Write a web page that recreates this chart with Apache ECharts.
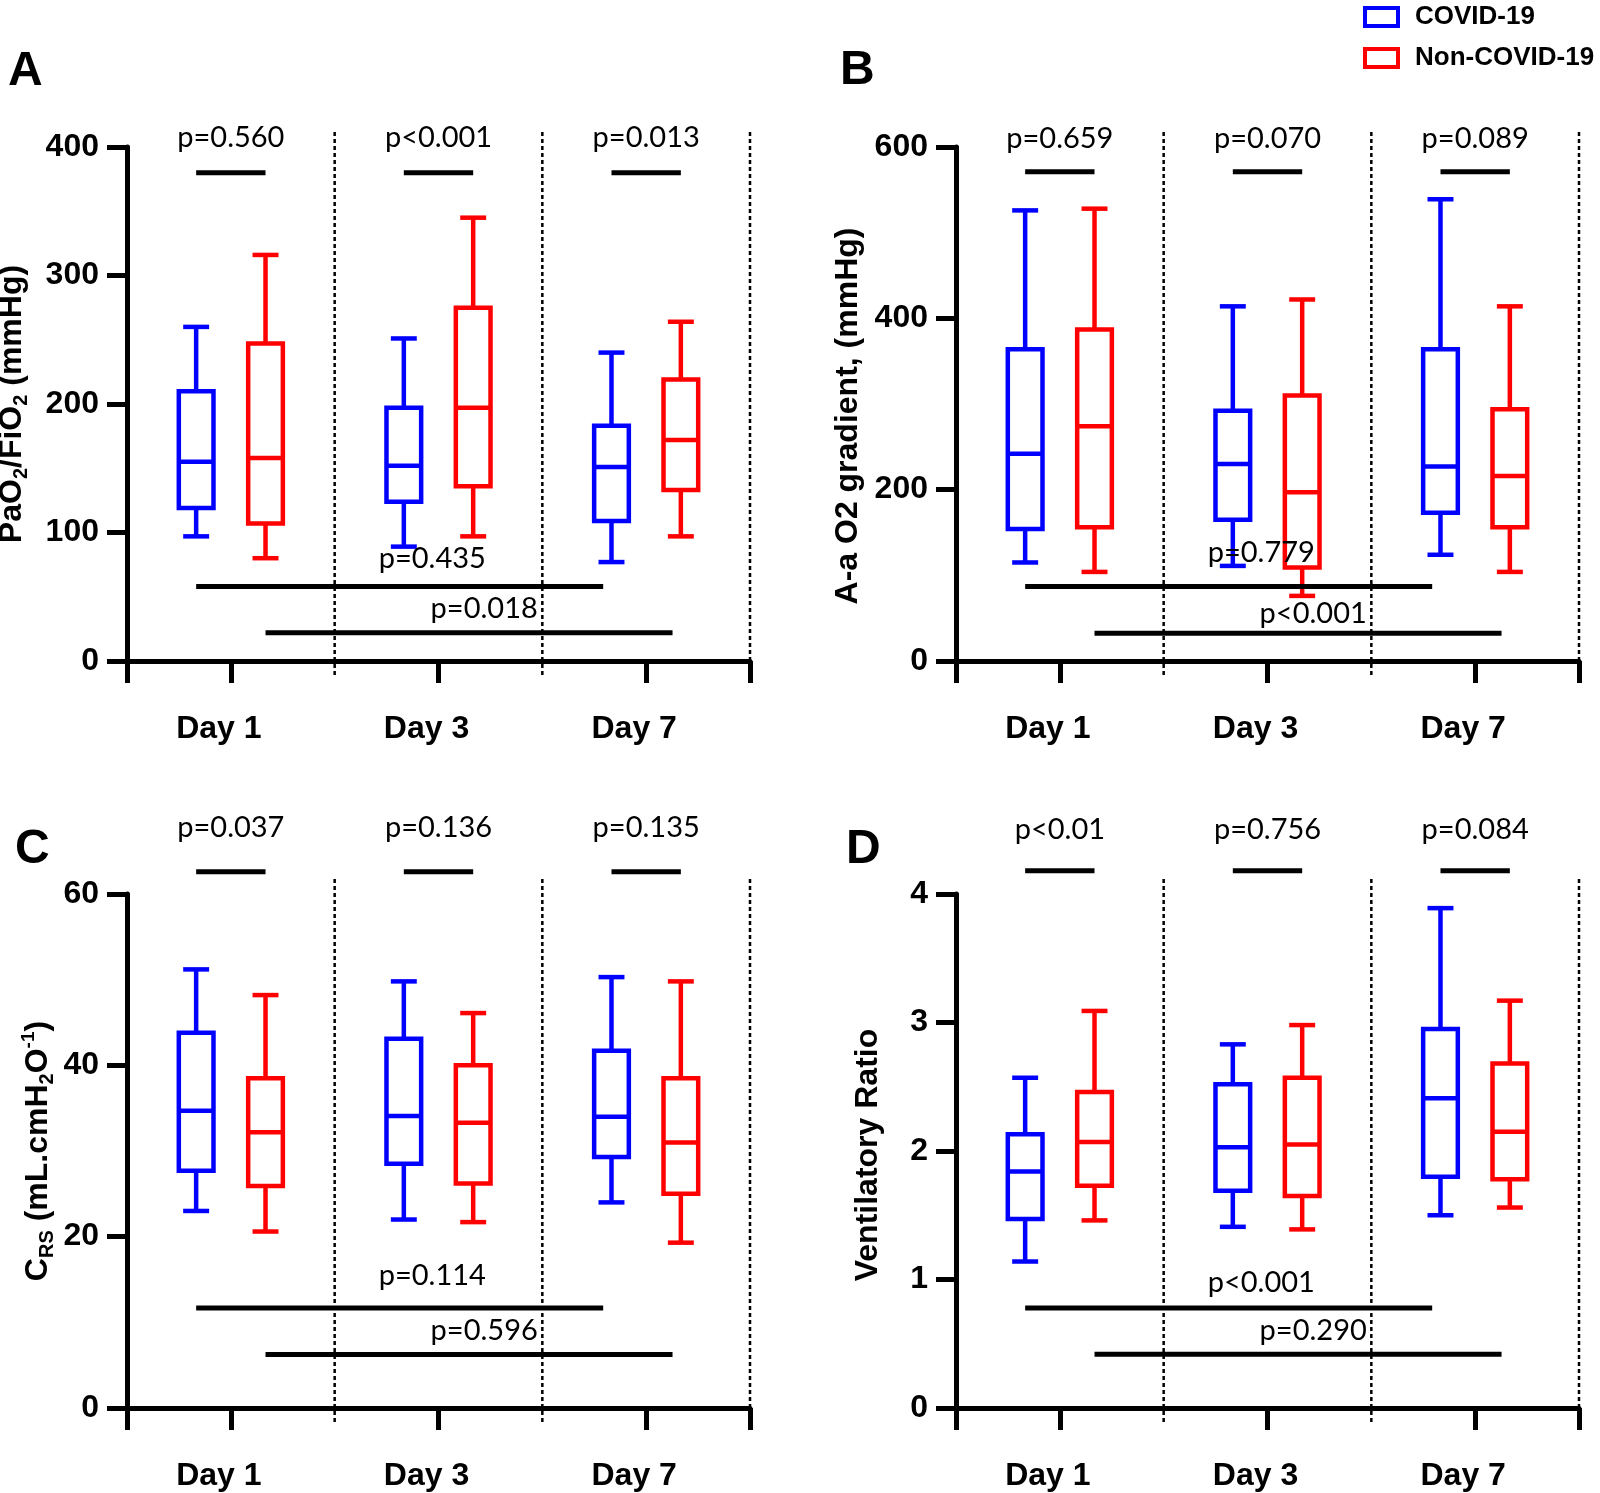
<!DOCTYPE html>
<html><head><meta charset="utf-8">
<script src="https://cdn.jsdelivr.net/npm/echarts@6/dist/echarts.min.js"></script>
<style>html,body{margin:0;padding:0;background:#fff}#c{width:1600px;height:1493px}</style>
</head><body><div id="c"></div>
<script>
const days = ['Day 1', 'Day 3', 'Day 7'];
const groups = ['COVID-19', 'Non-COVID-19'];

// box values per day: [lower whisker, Q1, median, Q3, upper whisker]
const A_covid = [[97, 119, 155, 210, 260], [89, 124, 152, 197, 251], [77, 109, 151, 183, 240]];
const A_non   = [[80, 107, 158, 247, 316], [97, 136, 197, 275, 345], [97, 133, 172, 219, 264]];
const B_covid = [[115, 154, 242, 364, 526], [111, 165, 230, 292, 414], [124, 173, 227, 364, 539]];
const B_non   = [[104, 156, 274, 387, 528], [76, 109, 197, 310, 422], [104, 156, 216, 294, 414]];
const C_covid = [[23.0, 27.7, 34.7, 43.8, 51.2], [22.0, 28.5, 34.1, 43.1, 49.8], [24.0, 29.3, 34.0, 41.7, 50.3]];
const C_non   = [[20.6, 25.9, 32.2, 38.5, 48.2], [21.7, 26.2, 33.3, 40.0, 46.1], [19.3, 25.0, 31.0, 38.5, 49.8]];
const D_covid = [[1.14, 1.47, 1.84, 2.13, 2.57], [1.41, 1.69, 2.03, 2.52, 2.83], [1.50, 1.80, 2.41, 2.95, 3.89]];
const D_non   = [[1.46, 1.73, 2.07, 2.46, 3.09], [1.39, 1.65, 2.05, 2.57, 2.98], [1.56, 1.78, 2.15, 2.68, 3.17]];

// y-axis tick labels
const A_ticks = [0, 100, 200, 300, 400];
const B_ticks = [0, 200, 400, 600];
const C_ticks = [0, 20, 40, 60];
const D_ticks = [0, 1, 2, 3, 4];

// p-values: COVID vs non-COVID per day; Day 1 vs Day 7 within each group
const A_pDay = ['p=0.560', 'p<0.001', 'p=0.013'];
const A_pTime = ['p=0.435', 'p=0.018'];
const B_pDay = ['p=0.659', 'p=0.070', 'p=0.089'];
const B_pTime = ['p=0.779', 'p<0.001'];
const C_pDay = ['p=0.037', 'p=0.136', 'p=0.135'];
const C_pTime = ['p=0.114', 'p=0.596'];
const D_pDay = ['p<0.01', 'p=0.756', 'p=0.084'];
const D_pTime = ['p<0.001', 'p=0.290'];

// annotation levels in data units: [bar, label]
const A_pDayLevel = [380, 407];
const B_pDayLevel = [571, 610];
const C_pDayLevel = [62.6, 67.7];
const D_pDayLevel = [4.18, 4.5];
// Day1-vs-Day7 bars [COVID, non-COVID] and their labels
const A_pTimeLevel = [58, 22],    A_pTimeLabel = [80, 41];
const B_pTimeLevel = [87, 32.4],  B_pTimeLabel = [126, 55];
const C_pTimeLevel = [11.66, 6.25], C_pTimeLabel = [15.5, 9.0];
const D_pTimeLevel = [0.779, 0.418], D_pTimeLabel = [0.973, 0.602];

const FONT = 'Liberation Sans';
const PFONT = 'Lato';
const COLORS = ['#0000ff', '#ff0000'];
const BOX_OFF = [-0.167, 0.167];
const BOX_W = 0.167, CAP_W = 0.125;
const LABEL_SHIFT = [-0.03, 0.22];
const END_INSET = 0.04;

const rich = {
  b: {fontSize: 32, fontWeight: 'bold', fontFamily: FONT, color: '#000', lineHeight: 38},
  s: {fontSize: 20, fontWeight: 'bold', fontFamily: FONT, color: '#000', verticalAlign: 'bottom'},
  p: {fontSize: 19, fontWeight: 'bold', fontFamily: FONT, color: '#000', verticalAlign: 'top'}
};

const panels = [
  {letter: 'A', tl: [8, 48], grid: [127, 147], covid: A_covid, non: A_non, ticks: A_ticks,
   name: '{b|PaO}{s|2}{b|/FiO}{s|2}{b| (mmHg)}', nameGap: 96, namePad: [0, 0, 0, 0],
   pDay: A_pDay, pDayLevel: A_pDayLevel, pTime: A_pTime, pTimeLevel: A_pTimeLevel, pTimeLabel: A_pTimeLabel},
  {letter: 'B', tl: [840, 47], grid: [956, 147], covid: B_covid, non: B_non, ticks: B_ticks,
   name: '{b|A-a O2 gradient, (mmHg)}', nameGap: 89, namePad: [0, 24, 0, 0],
   pDay: B_pDay, pDayLevel: B_pDayLevel, pTime: B_pTime, pTimeLevel: B_pTimeLevel, pTimeLabel: B_pTimeLabel},
  {letter: 'C', tl: [15, 826], grid: [127, 894], covid: C_covid, non: C_non, ticks: C_ticks,
   name: '{b|C}{s|RS}{b| (mL.cmH}{s|2}{b|O}{p|-1}{b|)}', nameGap: 70, namePad: [0, 0, 0, 0],
   pDay: C_pDay, pDayLevel: C_pDayLevel, pTime: C_pTime, pTimeLevel: C_pTimeLevel, pTimeLabel: C_pTimeLabel},
  {letter: 'D', tl: [846, 826], grid: [956, 894], covid: D_covid, non: D_non, ticks: D_ticks,
   name: '{b|Ventilatory Ratio}', nameGap: 69, namePad: [0, 8, 0, 0],
   pDay: D_pDay, pDayLevel: D_pDayLevel, pTime: D_pTime, pTimeLevel: D_pTimeLevel, pTimeLabel: D_pTimeLabel}
];

const option = {
  animation: false,
  backgroundColor: '#fff',
  title: [], grid: [], xAxis: [], yAxis: [], series: [],
  legend: {
    orient: 'vertical', left: 1363, top: 4, padding: 0, itemGap: 15,
    itemWidth: 33, itemHeight: 18, icon: 'rect', selectedMode: false,
    textStyle: {fontSize: 26, fontWeight: 'bold', fontFamily: FONT, color: '#000', padding: [0, 0, 0, 12]},
    data: groups.map((g, i) => ({name: g, itemStyle: {color: '#fff', borderColor: COLORS[i], borderWidth: 4}}))
  }
};

const axisLineStyle = {color: '#000', width: 5};

panels.forEach((P, k) => {
  option.title.push({text: P.letter, left: P.tl[0], top: P.tl[1], padding: 0,
    textStyle: {fontSize: 48, fontWeight: 'bold', fontFamily: FONT, color: '#000'}});
  option.grid.push({left: P.grid[0], top: P.grid[1], width: 623, height: 514, outerBoundsMode: 'none', containLabel: false});
  option.xAxis.push({
    gridIndex: k, type: 'category', data: days, boundaryGap: true, position: 'bottom',
    axisLine: {show: true, lineStyle: axisLineStyle},
    axisTick: {show: true, alignWithLabel: true, length: 22, lineStyle: axisLineStyle},
    axisLabel: {show: true, interval: 0, margin: 52, fontSize: 32, fontWeight: 'bold', fontFamily: FONT, color: '#000', padding: [0, 24, 0, 0]},
    splitLine: {show: false}
  });
  option.xAxis.push({
    gridIndex: k, type: 'value', min: 0, max: 3, interval: 3, position: 'bottom',
    axisLine: {show: false}, axisTick: {show: true, length: 22, lineStyle: axisLineStyle},
    axisLabel: {show: false}, splitLine: {show: false}
  });
  const t = P.ticks;
  option.yAxis.push({
    gridIndex: k, type: 'value', min: t[0], max: t[t.length - 1], interval: t[1] - t[0],
    axisLine: {show: true, lineStyle: axisLineStyle},
    axisTick: {show: true, length: 20, lineStyle: axisLineStyle},
    axisLabel: {show: true, margin: 28, fontSize: 32, fontWeight: 'bold', fontFamily: FONT, color: '#000'},
    splitLine: {show: false},
    name: P.name, nameLocation: 'middle', nameRotate: 90, nameGap: P.nameGap,
    nameTextStyle: {rich: rich, padding: P.namePad}
  });
  const xi = 2 * k;

  // dotted separators at category boundaries
  option.series.push({
    type: 'custom', xAxisIndex: xi, yAxisIndex: k, silent: true, clip: false, z: 1,
    data: days.map((d, i) => [i, t[0]]), encode: {x: 0, y: 1},
    renderItem: function (params, api) {
      const band = api.size([1, 0])[0];
      const x = api.coord([api.value(0), api.value(1)])[0] + band / 2;
      const cs = params.coordSys;
      return {type: 'line', shape: {x1: x, y1: cs.y - 15, x2: x, y2: cs.y + cs.height + 15},
        style: {stroke: '#000', lineWidth: 2.5, lineDash: [4, 3]}};
    }
  });

  // boxes
  [P.covid, P.non].forEach((vals, g) => {
    option.series.push({
      type: 'custom', name: groups[g], xAxisIndex: xi, yAxisIndex: k, silent: true, z: 3,
      itemStyle: {color: COLORS[g]},
      data: vals.map((v, i) => [i].concat(v)), encode: {x: 0, y: [1, 2, 3, 4, 5]},
      renderItem: function (params, api) {
        const cat = api.value(0);
        const band = api.size([1, 0])[0];
        const cx = api.coord([cat, api.value(3)])[0] + BOX_OFF[g] * band;
        const Y = j => api.coord([cat, api.value(j)])[1];
        const lo = Y(1), q1 = Y(2), md = Y(3), q3 = Y(4), hi = Y(5);
        const w = BOX_W * band, cw = CAP_W * band;
        const st = {stroke: COLORS[g], lineWidth: 4.5};
        const ln = (x1, y1, x2, y2) => ({type: 'line', shape: {x1, y1, x2, y2}, style: st});
        return {type: 'group', children: [
          ln(cx, hi, cx, q3), ln(cx - cw / 2, hi, cx + cw / 2, hi),
          ln(cx, q1, cx, lo), ln(cx - cw / 2, lo, cx + cw / 2, lo),
          {type: 'rect', shape: {x: cx - w / 2, y: q3, width: w, height: q1 - q3},
            style: {stroke: COLORS[g], lineWidth: 4.5, fill: 'none'}},
          ln(cx - w / 2, md, cx + w / 2, md)
        ]};
      }
    });
  });

  // between-group p-values per day
  option.series.push({
    type: 'custom', xAxisIndex: xi, yAxisIndex: k, silent: true, clip: false, z: 4,
    data: P.pDay.map((p, i) => [i, P.pDayLevel[0], P.pDayLevel[1]]), encode: {x: 0, y: 1},
    renderItem: function (params, api) {
      const cat = api.value(0);
      const band = api.size([1, 0])[0];
      const c = api.coord([cat, api.value(1)]);
      const l = api.coord([cat, api.value(2)]);
      return {type: 'group', children: [
        {type: 'line', shape: {x1: c[0] + BOX_OFF[0] * band, y1: c[1], x2: c[0] + BOX_OFF[1] * band, y2: c[1]},
          style: {stroke: '#000', lineWidth: 5}},
        {type: 'text', style: {text: P.pDay[params.dataIndex], x: l[0], y: l[1], align: 'center', verticalAlign: 'middle',
          textAlign: 'center', textVerticalAlign: 'middle', fill: '#000', fontSize: 29, fontFamily: PFONT}}
      ]};
    }
  });

  // Day 1 vs Day 7 within each group
  option.series.push({
    type: 'custom', xAxisIndex: xi, yAxisIndex: k, silent: true, clip: false, z: 4,
    data: P.pTime.map((p, g) => [0, P.pTimeLevel[g], P.pTimeLabel[g], g]), encode: {x: 0, y: 1},
    renderItem: function (params, api) {
      const g = api.value(3);
      const band = api.size([1, 0])[0];
      const y = api.coord([0, api.value(1)])[1];
      const ly = api.coord([0, api.value(2)])[1];
      const x1 = api.coord([0, api.value(1)])[0] + BOX_OFF[g] * band;
      const x2 = api.coord([2, api.value(1)])[0] + (BOX_OFF[g] - END_INSET) * band;
      const lx = api.coord([1, api.value(1)])[0] + LABEL_SHIFT[g] * band;
      return {type: 'group', children: [
        {type: 'line', shape: {x1: x1, y1: y, x2: x2, y2: y}, style: {stroke: '#000', lineWidth: 5}},
        {type: 'text', style: {text: P.pTime[params.dataIndex], x: lx, y: ly, align: 'center', verticalAlign: 'middle',
          textAlign: 'center', textVerticalAlign: 'middle', fill: '#000', fontSize: 29, fontFamily: PFONT}}
      ]};
    }
  });
});

const chart = echarts.init(document.getElementById('c'), null, {renderer: 'canvas'});
chart.setOption(option);
</script>
</body></html>
